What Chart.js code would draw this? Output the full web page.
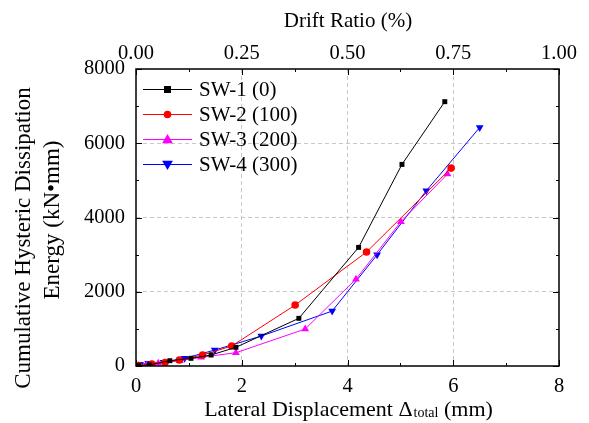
<!DOCTYPE html>
<html><head><meta charset="utf-8">
<script src="https://cdn.jsdelivr.net/npm/chart.js@4/dist/chart.umd.min.js"></script>
<style>html,body{margin:0;padding:0;background:#fff}#wrap{width:589px;height:423px;position:relative}</style>
</head><body><div id="wrap"><canvas id="c" width="589" height="423"></canvas></div>
<script>
const seriesNames = ["SW-1 (0)", "SW-2 (100)", "SW-3 (200)", "SW-4 (300)"];
const sw1X = [0.05, 0.25, 0.64, 1.04, 1.42, 1.89, 3.08, 4.21, 5.03, 5.84];
const sw1Y = [10, 30, 143, 207, 296, 503, 1284, 3195, 5430, 7120];
const sw2X = [0.05, 0.3, 0.55, 0.82, 1.26, 1.81, 3.01, 4.36, 5.96];
const sw2Y = [15, 50, 95, 161, 296, 538, 1642, 3070, 5330];
const sw3X = [0.05, 0.2, 0.42, 0.83, 1.23, 1.89, 3.2, 4.16, 5.01, 5.89];
const sw3Y = [5, 25, 73, 143, 234, 358, 996, 2340, 3885, 5170];
const sw4X = [0.075, 0.23, 0.52, 0.92, 1.49, 2.37, 3.71, 4.56, 5.49, 6.5];
const sw4Y = [46, 73, 100, 207, 430, 807, 1480, 2996, 4720, 6425];
const xTicks = [0, 2, 4, 6, 8];
const yTicks = [0, 2000, 4000, 6000, 8000];
const driftTicks = [0, 0.25, 0.5, 0.75, 1.0];

const colors = ["#000000", "#ff0000", "#ff00ff", "#0000ff"];
const styles = ["rect", "circle", "triangle", "triangle"];
const rots = [0, 0, 0, 180];
const radii = [3.5, 3.8, 4.5, 4.5];
const xs = [sw1X, sw2X, sw3X, sw4X], ys = [sw1Y, sw2Y, sw3Y, sw4Y];

const datasets = seriesNames.map((n, i) => ({
  label: n,
  data: xs[i].map((x, k) => ({x: x, y: ys[i][k]})),
  borderColor: colors[i], backgroundColor: colors[i],
  borderWidth: 1, pointStyle: styles[i], pointRotation: rots[i],
  pointRadius: radii[i], pointBorderWidth: 0, tension: 0,
  xAxisID: 'x', yAxisID: 'y'
}));

const FONT = "'Liberation Serif', 'Times New Roman', serif";

function drawMarker(ctx, style, x, y, r, color, rot) {
  ctx.save(); ctx.fillStyle = color; ctx.beginPath();
  if (style === 'rect') { ctx.rect(x - r, y - r, 2 * r, 2 * r); }
  else if (style === 'circle') { ctx.arc(x, y, r, 0, Math.PI * 2); }
  else {
    const s = rot === 180 ? -1 : 1; const h = r * 1.2;
    ctx.moveTo(x, y - s * h); ctx.lineTo(x + h, y + s * h * 0.7); ctx.lineTo(x - h, y + s * h * 0.7); ctx.closePath();
  }
  ctx.fill(); ctx.restore();
}

const decor = {
  id: 'decor',
  afterDraw(chart) {
    const ctx = chart.ctx, a = chart.chartArea;
    const sx = chart.scales.x, sy = chart.scales.y, st = chart.scales.x2;
    ctx.save();
    ctx.strokeStyle = '#000'; ctx.lineWidth = 1.5;
    ctx.strokeRect(a.left, a.top, a.right - a.left, a.bottom - a.top);
    ctx.lineWidth = 1;
    ctx.beginPath();
    for (let v = 0; v <= 8; v += 1) {
      const p = Math.round(sx.getPixelForValue(v)) + 0.5; const L = v % 2 === 0 ? 6 : 3;
      ctx.moveTo(p, a.bottom); ctx.lineTo(p, a.bottom - L);
    }
    for (let v = 0; v <= 1.0001; v += 0.125) {
      const p = Math.round(st.getPixelForValue(v)) + 0.5; const L = Math.abs(v / 0.25 - Math.round(v / 0.25)) < 1e-6 ? 6 : 3;
      ctx.moveTo(p, a.top); ctx.lineTo(p, a.top + L);
    }
    for (let v = 0; v <= 8000; v += 1000) {
      const p = Math.round(sy.getPixelForValue(v)) + 0.5; const L = v % 2000 === 0 ? 6 : 3;
      ctx.moveTo(a.left, p); ctx.lineTo(a.left + L, p);
      ctx.moveTo(a.right, p); ctx.lineTo(a.right - L, p);
    }
    ctx.stroke();
    // legend
    ctx.font = "21px " + FONT; ctx.textBaseline = 'middle'; ctx.textAlign = 'left';
    seriesNames.forEach((n, i) => {
      const y = 89 + i * 25;
      ctx.strokeStyle = colors[i]; ctx.lineWidth = 1;
      ctx.beginPath(); ctx.moveTo(143, y + 0.5); ctx.lineTo(192, y + 0.5); ctx.stroke();
      drawMarker(ctx, styles[i], 167.5, y + 0.5, radii[i], colors[i], rots[i]);
      ctx.fillStyle = '#000'; ctx.fillText(n, 199, y + 1);
    });
    // titles
    ctx.fillStyle = '#000'; ctx.font = "21px " + FONT; ctx.textAlign = 'center';
    ctx.fillText("Drift Ratio (%)", 348, 21);
    // bottom title with subscript
    ctx.textBaseline = 'alphabetic';
    const t1 = "Lateral Displacement \u0394", t2 = "total", t3 = " (mm)";
    ctx.font = "22px " + FONT; const w1 = ctx.measureText(t1).width, w3 = ctx.measureText(t3).width;
    ctx.font = "14px " + FONT; const w2 = ctx.measureText(t2).width;
    let x0 = 348 - (w1 + w2 + w3) / 2; ctx.textAlign = 'left';
    ctx.font = "22px " + FONT; ctx.fillText(t1, x0, 416);
    ctx.font = "14px " + FONT; ctx.fillText(t2, x0 + w1 + 1, 417);
    ctx.font = "22px " + FONT; ctx.fillText(t3, x0 + w1 + w2 + 1, 416);
    // y title
    ctx.textBaseline = 'middle'; ctx.font = "23px " + FONT;
    ctx.save(); ctx.translate(24, 238); ctx.rotate(-Math.PI / 2); ctx.textAlign = 'center';
    ctx.fillText("Cumulative Hysteric Dissipation", 0, 0); ctx.restore();
    ctx.save(); ctx.translate(53, 220); ctx.rotate(-Math.PI / 2); ctx.textAlign = 'center';
    ctx.fillText("Energy (kN\u2022mm)", 0, 0); ctx.restore();
    ctx.restore();
  }
};

const tickFont = {family: FONT, size: 20.5};
new Chart(document.getElementById('c'), {
  type: 'line',
  data: {datasets},
  options: {
    responsive: false, animation: false, devicePixelRatio: 1,
    layout: {padding: 0},
    plugins: {legend: {display: false}, tooltip: {enabled: false}},
    scales: {
      x: {
        type: 'linear', position: 'bottom', min: 0, max: 8,
        afterBuildTicks: s => { s.ticks = xTicks.map(v => ({value: v})); },
        afterFit: s => { s.height = 57; },
        ticks: {font: tickFont, color: '#000', padding: 8, maxRotation: 0, callback: v => String(v)},
        grid: {drawTicks: false, color: c => (c.tick && c.tick.value > 0 && c.tick.value < 8) ? '#c8c8c8' : 'rgba(0,0,0,0)', lineWidth: 1},
        border: {display: false, dash: [4, 3]}
      },
      x2: {
        type: 'linear', position: 'top', min: 0, max: 1,
        afterBuildTicks: s => { s.ticks = driftTicks.map(v => ({value: v})); },
        afterFit: s => { s.height = 69; },
        ticks: {font: tickFont, color: '#000', padding: 3, maxRotation: 0, callback: v => v.toFixed(2)},
        grid: {display: false, drawTicks: false},
        border: {display: false}
      },
      y: {
        type: 'linear', position: 'left', min: 0, max: 8000,
        afterBuildTicks: s => { s.ticks = yTicks.map(v => ({value: v})); },
        afterFit: s => { s.width = 136; },
        ticks: {font: tickFont, color: '#000', padding: 11, callback: v => String(v)},
        grid: {drawTicks: false, color: c => (c.tick && c.tick.value > 0 && c.tick.value < 8000) ? '#c8c8c8' : 'rgba(0,0,0,0)', lineWidth: 1},
        border: {display: false, dash: [4, 3]}
      },
      y2: {
        type: 'linear', position: 'right', min: 0, max: 8000,
        afterFit: s => { s.width = 30; },
        ticks: {display: false},
        grid: {display: false, drawTicks: false},
        border: {display: false}
      }
    }
  },
  plugins: [decor]
});
</script></body></html>
